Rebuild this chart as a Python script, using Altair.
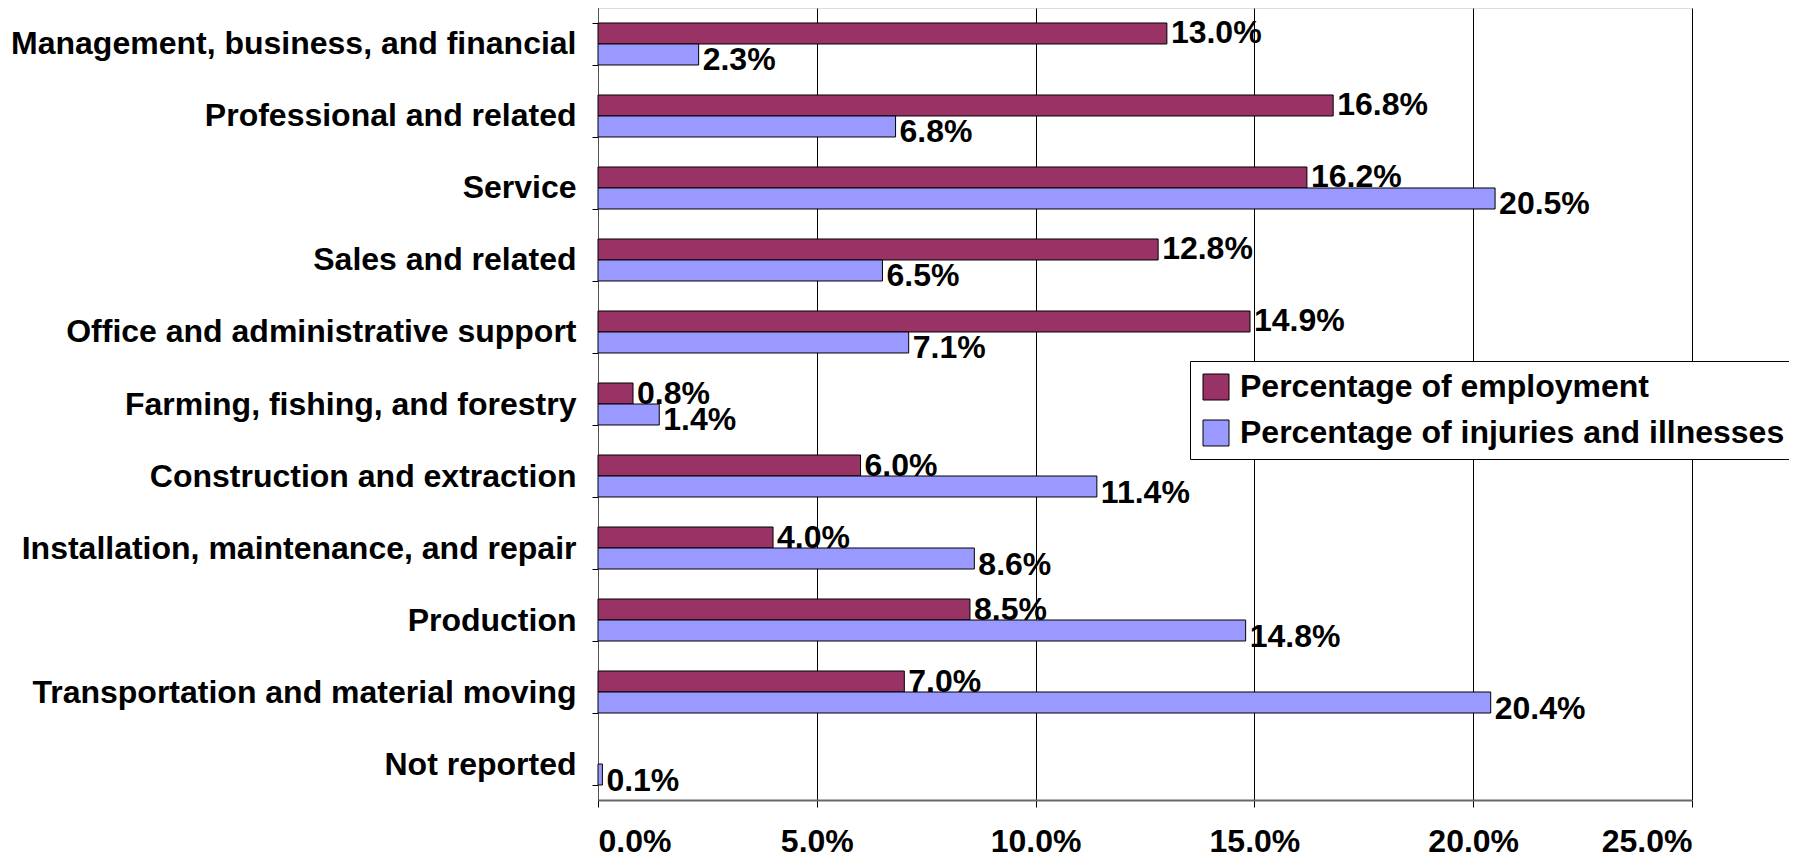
import altair as alt
import pandas as pd

categories = [
    "Management, business, and financial",
    "Professional and related",
    "Service",
    "Sales and related",
    "Office and administrative support",
    "Farming, fishing, and forestry",
    "Construction and extraction",
    "Installation, maintenance, and repair",
    "Production",
    "Transportation and material moving",
    "Not reported",
]
employment = [13.0, 16.8, 16.2, 12.8, 14.9, 0.8, 6.0, 4.0, 8.5, 7.0, None]
injuries = [2.3, 6.8, 20.5, 6.5, 7.1, 1.4, 11.4, 8.6, 14.8, 20.4, 0.1]
series = ["Percentage of employment", "Percentage of injuries and illnesses"]
colors = ["#993366", "#9999FF"]
x_ticks = [0.0, 0.05, 0.10, 0.15, 0.20, 0.25]

rows = []
for c, e, i in zip(categories, employment, injuries):
    if e is not None:
        rows.append({"category": c, "series": series[0], "value": e / 100})
    rows.append({"category": c, "series": series[1], "value": i / 100})
df = pd.DataFrame(rows)

FONT = "Liberation Sans"

y_enc = alt.Y(
    "category:N",
    sort=categories,
    scale=alt.Scale(paddingInner=0.4167, paddingOuter=0.2083),
    axis=alt.Axis(
        title=None,
        tickBand="extent",
        tickSize=6,
        tickColor="black",
        domainColor="#555555",
        labelFontSize=32,
        labelFontWeight="bold",
        labelFont=FONT,
        labelColor="black",
        labelPadding=16,
        labelLimit=1000,
        grid=False,
    ),
)
x_enc = alt.X(
    "value:Q",
    scale=alt.Scale(domain=[0, 0.25], nice=False),
    axis=alt.Axis(
        title=None,
        values=x_ticks,
        format=".1%",
        grid=True,
        gridColor="black",
        gridWidth=1,
        gridOpacity=1,
        tickSize=7,
        tickColor="black",
        domainColor="#666666",
        domainWidth=2,
        labelFontSize=32,
        labelFontWeight="bold",
        labelFont=FONT,
        labelColor="black",
        labelPadding=19,
    ),
)
yoff = alt.YOffset("series:N", sort=series, scale=alt.Scale(domain=series, paddingInner=0, paddingOuter=0))

base = alt.Chart(df)

bars = base.mark_bar(stroke="black", strokeWidth=1, opacity=1).encode(
    x=x_enc,
    y=y_enc,
    yOffset=yoff,
    color=alt.Color(
        "series:N",
        sort=series,
        scale=alt.Scale(domain=series, range=colors),
        legend=alt.Legend(
            title=None,
            orient="none",
            legendX=592,
            legendY=353,
            fillColor="white",
            strokeColor="black",
            padding=10,
            symbolType="square",
            symbolSize=676,
            symbolStrokeColor="black",
            symbolStrokeWidth=1,
            symbolOpacity=1,
            labelFontSize=32,
            labelFontWeight="bold",
            labelFont=FONT,
            labelColor="black",
            labelLimit=1000,
            labelOffset=8,
            rowPadding=14,
        ),
    ),
)

def labels(name, dy):
    return base.transform_filter(alt.datum.series == name).mark_text(
        align="left", baseline="middle", dx=4, dy=dy,
        fontSize=32, fontWeight="bold", font=FONT, color="black",
    ).encode(
        x=alt.X("value:Q"),
        y=alt.Y("category:N", sort=categories),
        yOffset=alt.YOffset("series:N", sort=series),
        text=alt.Text("value:Q", format=".1%"),
    )

chart = alt.layer(bars, labels(series[0], 0), labels(series[1], 6)).properties(
    width=1094,
    height=792,
    autosize=alt.AutoSizeParams(type="none"),
    padding={"left": 590, "top": 0, "right": 97, "bottom": 57},
).configure_view(stroke=None).configure(font=FONT)

chart.save("out.html", embed_options={"renderer": "svg", "actions": False})
